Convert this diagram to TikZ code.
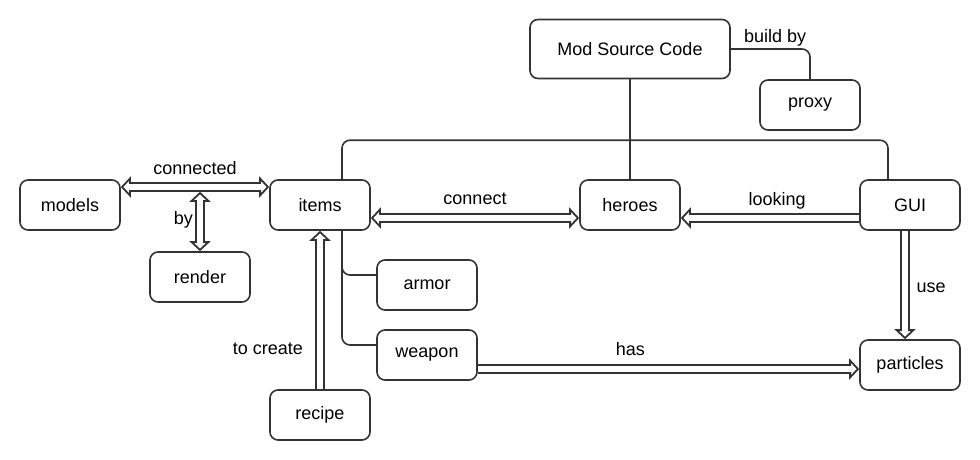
\documentclass[tikz,border=0pt]{standalone}
\usepackage{fontspec}
\setmainfont{Liberation Sans}
\usetikzlibrary{arrows.meta, positioning, calc}
\definecolor{edge}{HTML}{333333}

\tikzset{
    head/.tip={Triangle[fill=white, line width=1.8pt, width=21pt, length=10pt]},
    link/.style={draw=edge, line width=9.6pt},
    tip/.style={link, -head,
                postaction={draw=white, line width=6pt, -, shorten >=6pt}},
    tips/.style={link, head-head,
                 postaction={draw=white, line width=6pt, -,
                             shorten <=6pt, shorten >=6pt}}
}

\begin{document}
\begin{tikzpicture}[
    x=1pt, y=-1pt,
    font=\fontsize{18}{21}\selectfont,
    box/.style={rectangle, rounded corners=8pt, draw=edge, fill=white,
                line width=1.6pt, inner sep=0pt,
                minimum width=100pt, minimum height=50pt},
    wire/.style={draw=edge, line width=1.6pt, rounded corners=8pt},
    lbl/.style={inner sep=0pt, outer sep=0pt, text depth=0pt}
]
\useasboundingbox (0,0) rectangle (980,460);

\node[box, minimum width=200pt, minimum height=59pt]
    (src)    at (630,49)  {Mod Source Code};
\node[box] (proxy)  at (810,105) {proxy};
\node[box] (models) at (70,205)  {models};
\node[box] (items)  at (320,205) {items};
\node[box] (heroes) at (630,205) {heroes};
\node[box] (gui)    at (910,205) {GUI};
\node[box] (render) at (200,277) {render};
\node[box] (armor)  at (427,285) {armor};
\node[box] (weapon) at (427,355) {weapon};
\node[box] (parts)  at (910,365) {particles};
\node[box] (recipe) at (320,415) {recipe};

% plain links
\draw[wire] (src.east) -| node[lbl, above=6pt, pos=0.28]{build by} (proxy.north);
\draw[wire] (src.south) -- (heroes.north);
\draw[wire] ([xshift=22pt]items.north) -- ++(0,-39) -| ([xshift=-22pt]gui.north);
\draw[wire] ([xshift=22pt]items.south) |- ([yshift=10pt]armor.west);
\draw[wire] ([xshift=22pt]items.south) |- ([yshift=10pt]weapon.west);

% hollow double arrows
\draw[tips] ([yshift=18pt]models.east)
    -- node[lbl, above=12.5pt]{connected} ([yshift=18pt]items.west)
    coordinate[pos=0.5, yshift=-4.8pt] (conn);
\draw[tips] (render.north |- conn)
    -- node[lbl, left=7pt, pos=0.44]{by} (render.north);
\draw[tips] ([yshift=-13pt]items.east)
    -- node[lbl, above=14pt]{connect} ([yshift=-13pt]heroes.west);
\draw[tip] ([yshift=-13pt]gui.west)
    -- node[lbl, above=13pt, pos=0.46]{looking} ([yshift=-13pt]heroes.east);
\draw[tip] ([xshift=-5pt]gui.south)
    -- node[lbl, right=11.5pt, pos=0.52]{use} ([xshift=-5pt]parts.north);
\draw[tip] ([yshift=-14pt]weapon.east)
    -- node[lbl, above=14pt, pos=0.4]{has} ([yshift=-14pt]weapon.east -| parts.west);
\draw[tip] (recipe.north)
    -- node[lbl, left=17pt, pos=0.256]{to create} (items.south);
\end{tikzpicture}
\end{document}
